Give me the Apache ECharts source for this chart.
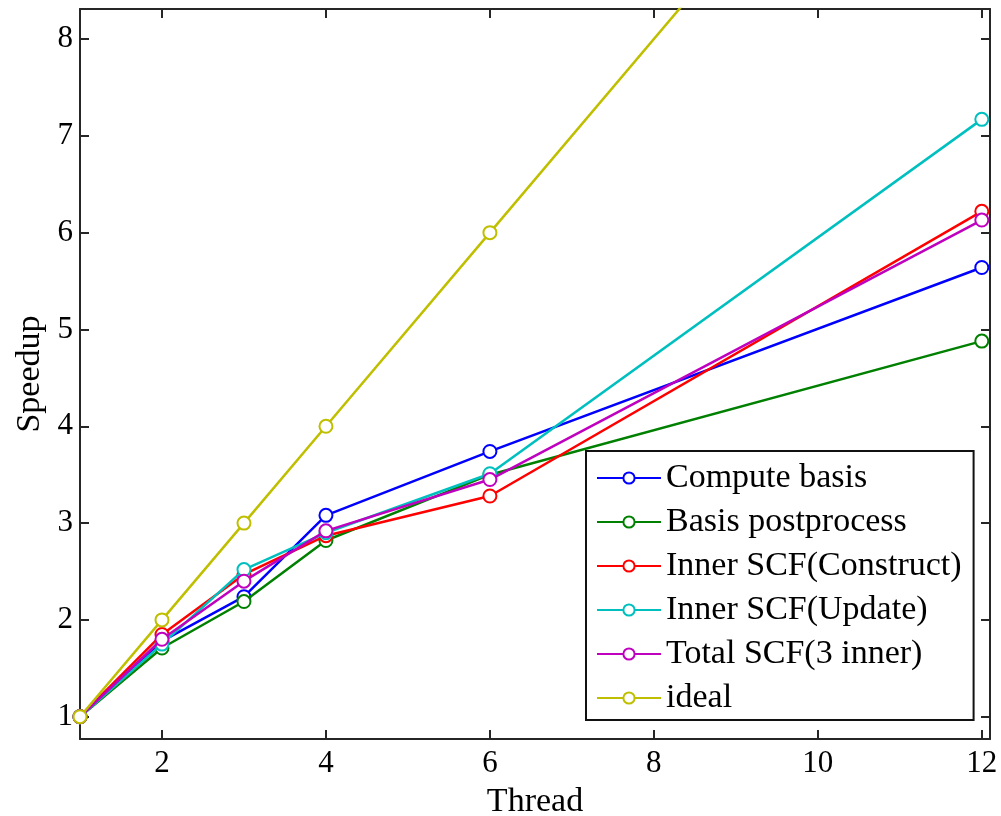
<!DOCTYPE html>
<html>
<head>
<meta charset="utf-8">
<script src="https://cdn.jsdelivr.net/npm/echarts@6/dist/echarts.min.js"></script>
<style>
    html, body { margin: 0; padding: 0; background: #fff; }
    #chart { width: 1001px; height: 816px; }
</style>
</head>
<body>
<div id="chart"></div>
<script>
'use strict';
// 线程数
var threads = [1, 2, 3, 4, 6, 12];
var xTicks = [2, 4, 6, 8, 10, 12];
var yTicks = [1, 2, 3, 4, 5, 6, 7, 8];

// 各阶段加速比
var computeBasis = [1, 1.78, 2.24, 3.08, 3.74, 5.64];
var basisPost = [1, 1.71, 2.19, 2.82, 3.50, 4.88];
var innerConstruct = [1, 1.85, 2.47, 2.87, 3.28, 6.22];
var innerUpdate = [1, 1.75, 2.52, 2.90, 3.51, 7.17];
var totalScf = [1, 1.80, 2.40, 2.92, 3.45, 6.13];
var ideal = [1, 2, 3, 4, 6, 12];

var names = ['Compute basis', 'Basis postprocess', 'Inner SCF(Construct)',
    'Inner SCF(Update)', 'Total SCF(3 inner)', 'ideal'];
var colors = ['#0000ff', '#008000', '#ff0000', '#00bfbf', '#bf00bf', '#bfbf00'];
var values = [computeBasis, basisPost, innerConstruct, innerUpdate, totalScf, ideal];

var font = '"Liberation Serif", "DejaVu Serif", serif';
var axisColor = '#262626';

function pairs(ys) {
    var arr = [];
    for (var i = 0; i < threads.length; i++) {
        arr.push([threads[i], ys[i]]);
    }
    return arr;
}

var series = [];
for (var i = 0; i < names.length; i++) {
    series.push({
        name: names[i],
        type: 'line',
        data: pairs(values[i]),
        symbol: 'emptyCircle',
        symbolSize: 13,
        showAllSymbol: true,
        clip: true,
        lineStyle: { width: 2.5, color: colors[i] },
        itemStyle: { color: colors[i], borderColor: colors[i], borderWidth: 2 },
        emphasis: { disabled: true },
        z: 2 + i
    });
}

function xAxis(pos, showLabel) {
    return {
        type: 'value',
        position: pos,
        min: 1,
        max: 12.1,
        name: showLabel ? 'Thread' : '',
        nameLocation: 'middle',
        nameGap: 46,
        nameTextStyle: { fontFamily: font, fontSize: 34, color: '#000' },
        axisLine: { show: true, onZero: false, lineStyle: { color: axisColor, width: 2 } },
        axisTick: { show: true, inside: true, length: 9, customValues: xTicks,
            lineStyle: { color: axisColor, width: 2 } },
        axisLabel: { show: showLabel, customValues: xTicks, margin: 9,
            fontFamily: font, fontSize: 31, color: '#000' },
        splitLine: { show: false }
    };
}

function yAxis(pos, showLabel) {
    return {
        type: 'value',
        position: pos,
        min: 0.77,
        max: 8.31,
        name: showLabel ? 'Speedup' : '',
        nameLocation: 'middle',
        nameRotate: 90,
        nameGap: 33,
        nameTextStyle: { fontFamily: font, fontSize: 34, color: '#000' },
        axisLine: { show: true, onZero: false, lineStyle: { color: axisColor, width: 2 } },
        axisTick: { show: true, inside: true, length: 9, customValues: yTicks,
            lineStyle: { color: axisColor, width: 2 } },
        axisLabel: { show: showLabel, customValues: yTicks, margin: 7,
            fontFamily: font, fontSize: 31, color: '#000' },
        splitLine: { show: false }
    };
}

var chart = echarts.init(document.getElementById('chart'));
chart.setOption({
    animation: false,
    backgroundColor: '#fff',
    grid: { left: 80, top: 9, right: 11, bottom: 77, containLabel: false, outerBoundsMode: 'none' },
    legend: {
        orient: 'vertical',
        left: 586,
        top: 451,
        padding: [10, 12, 5, 10],
        itemGap: 10,
        itemWidth: 64,
        itemHeight: 14,
        borderColor: '#111',
        borderWidth: 2,
        backgroundColor: '#fff',
        data: names,
        textStyle: { fontFamily: font, fontSize: 34, color: '#000', lineHeight: 30 }
    },
    xAxis: [xAxis('bottom', true), xAxis('top', false)],
    yAxis: [yAxis('left', true), yAxis('right', false)],
    series: series
});
</script>
</body>
</html>
